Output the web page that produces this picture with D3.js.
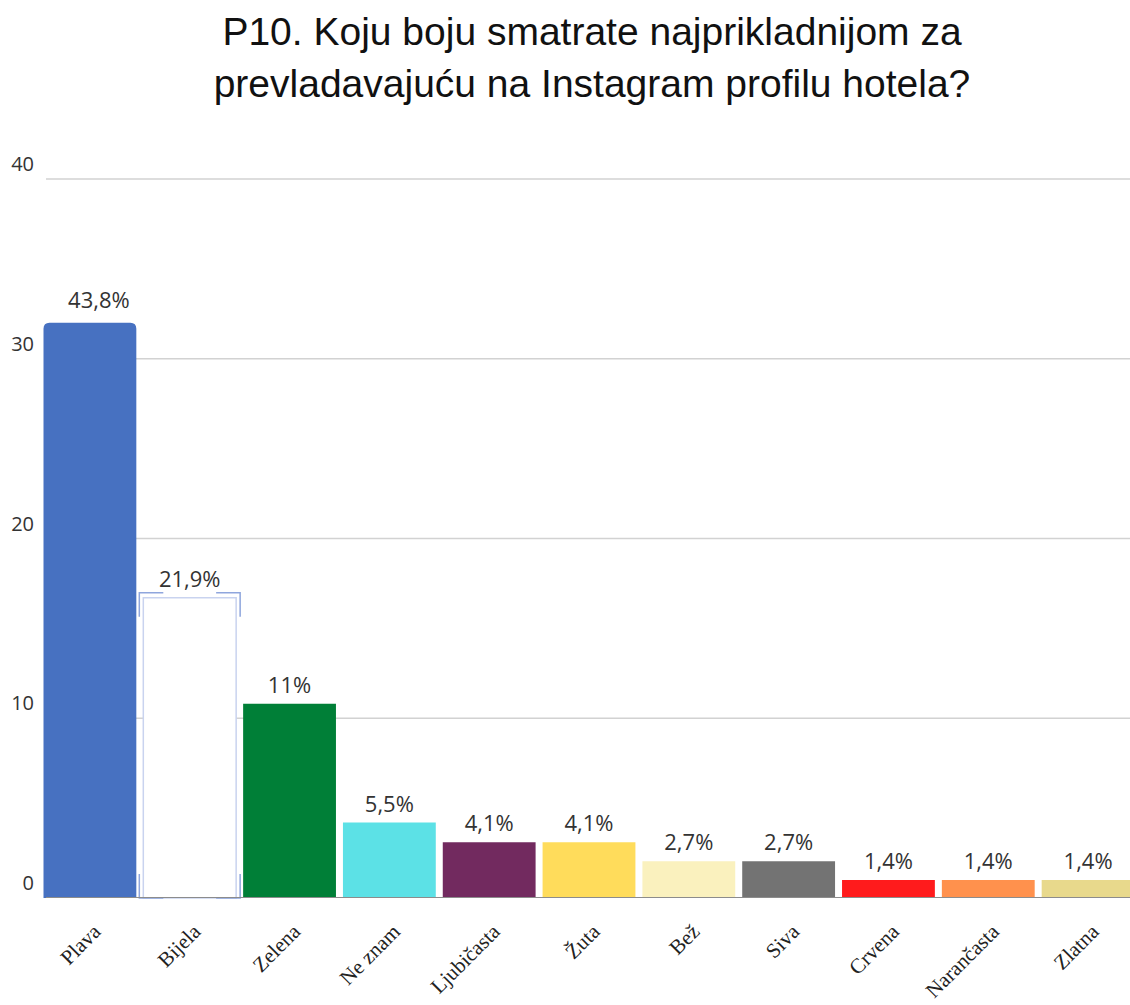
<!DOCTYPE html>
<html>
<head>
<meta charset="utf-8">
<script src="https://cdn.jsdelivr.net/npm/d3@7"></script>
<style>
  body { margin: 0; background: #fff; }
  svg { display: block; }
</style>
</head>
<body>
<div id="chart"></div>
<script>
var titleLines = [
  'P10. Koju boju smatrate najprikladnijom za',
  'prevladavajuću na Instagram profilu hotela?'
]

var categories = ['Plava', 'Bijela', 'Zelena', 'Ne znam', 'Ljubičasta', 'Žuta', 'Bež', 'Siva', 'Crvena', 'Narančasta', 'Zlatna']
var values = [32, 16.7, 10.8, 4.2, 3.1, 3.1, 2.05, 2.05, 1, 1, 1]
var valueLabels = ['43,8%', '21,9%', '11%', '5,5%', '4,1%', '4,1%', '2,7%', '2,7%', '1,4%', '1,4%', '1,4%']
var colors = ['#4771c1', '#ffffff', '#007f37', '#5ce1e6', '#722a5f', '#ffdc5b', '#faf1be', '#737373', '#ff1b1c', '#ff914d', '#e8d98c']
var yTicks = [0, 10, 20, 30, 40]

var width = 1130
var height = 1005

var svg = d3.select('#chart').append('svg')
  .attr('width', width)
  .attr('height', height)

// title
svg.append('g')
    .attr('class', 'title')
  .selectAll('text')
    .data(titleLines)
  .enter().append('text')
    .attr('x', 592)
    .attr('y', function (d, i) { return 45 + i * 52 })
    .attr('text-anchor', 'middle')
    .style('font-family', '"Liberation Sans", Arial, sans-serif')
    .style('font-size', '39px')
    .style('fill', '#111')
    .text(function (d) { return d })

var x = d3.scaleBand()
  .domain(categories)
  .range([40, 1138])
  .paddingInner(0.07)
  .paddingOuter(0.035)

var y = d3.scaleLinear()
  .domain([0, 40])
  .range([898, 179])

// grid
var gGrid = svg.append('g').attr('class', 'grid')
gGrid.selectAll('line')
    .data(yTicks.filter(function (t) { return t > 0 }))
  .enter().append('line')
    .attr('x1', 46)
    .attr('x2', width)
    .attr('y1', function (d) { return y(d) })
    .attr('y2', function (d) { return y(d) })
    .attr('stroke', '#d2d2d2')
    .attr('stroke-width', 1.5)

// y labels sit above their gridline
svg.append('g')
    .attr('class', 'y axis')
  .selectAll('text')
    .data(yTicks)
  .enter().append('text')
    .attr('x', 34)
    .attr('y', function (d) { return y(d) - 8 })
    .attr('text-anchor', 'end')
    .style('font-family', '"Open Sans", sans-serif')
    .style('font-size', '20px')
    .style('fill', '#333')
    .text(function (d) { return d })

// bars
var data = categories.map(function (c, i) {
  return { cat: c, value: values[i], label: valueLabels[i], color: colors[i] }
})

var gBars = svg.append('g').attr('class', 'bars')

gBars.selectAll('path')
    .data(data)
  .enter().append('path')
    .attr('d', function (d, i) {
      var x0 = x(d.cat), x1 = x0 + x.bandwidth()
      var y0 = y(0), y1 = y(d.value)
      var r = i === 0 ? 6 : 0
      return 'M' + x0 + ',' + y0 +
        'L' + x0 + ',' + (y1 + r) +
        'Q' + x0 + ',' + y1 + ',' + (x0 + r) + ',' + y1 +
        'L' + (x1 - r) + ',' + y1 +
        'Q' + x1 + ',' + y1 + ',' + x1 + ',' + (y1 + r) +
        'L' + x1 + ',' + y0 + 'Z'
    })
    .attr('fill', function (d) { return d.color })
    .attr('stroke', function (d) { return d.color === '#ffffff' ? '#c9d3ef' : 'none' })
    .attr('stroke-width', 1.5)

// selection brackets round the white bar
var sel = data[1]
var bx0 = x(sel.cat) - 4
var bx1 = x(sel.cat) + x.bandwidth() + 4
var by0 = y(sel.value) - 5
var by1 = y(0)
var arm = 24
var brackets = [
  [[bx0, by0 + arm], [bx0, by0], [bx0 + arm, by0]],
  [[bx1 - arm, by0], [bx1, by0], [bx1, by0 + arm]],
  [[bx0, by1 - arm], [bx0, by1], [bx0 + arm, by1]],
  [[bx1 - arm, by1], [bx1, by1], [bx1, by1 - arm]]
]
svg.append('g')
    .attr('class', 'selection')
  .selectAll('path')
    .data(brackets)
  .enter().append('path')
    .attr('d', d3.line())
    .attr('fill', 'none')
    .attr('stroke', '#8fa6dd')
    .attr('stroke-width', 1.5)

// baseline
svg.append('line')
  .attr('x1', 46)
  .attr('x2', width)
  .attr('y1', y(0) - 0.5)
  .attr('y2', y(0) - 0.5)
  .attr('stroke', '#8c8c8c')
  .attr('stroke-width', 1)

// value labels (first one sits a little right of centre in the original)
gBars.selectAll('text')
    .data(data)
  .enter().append('text')
    .attr('x', function (d, i) { return x(d.cat) + x.bandwidth() / 2 + (i === 0 ? 9 : 0) })
    .attr('y', function (d, i) { return y(d.value) - (i === 0 ? 15 : 11) })
    .attr('text-anchor', 'middle')
    .style('font-family', '"Open Sans", sans-serif')
    .style('font-size', '22px')
    .style('fill', '#333')
    .text(function (d) { return d.label })

// x labels, rotated
svg.append('g')
    .attr('class', 'x axis')
  .selectAll('text')
    .data(categories)
  .enter().append('text')
    .attr('transform', function (d) {
      return 'translate(' + (x(d) + x.bandwidth() / 2 + 12) + ',' + 933 + ') rotate(-45)'
    })
    .attr('text-anchor', 'end')
    .style('font-family', '"Liberation Serif", "Times New Roman", serif')
    .style('font-size', '21px')
    .style('fill', '#222')
    .text(function (d) { return d })
</script>
</body>
</html>
